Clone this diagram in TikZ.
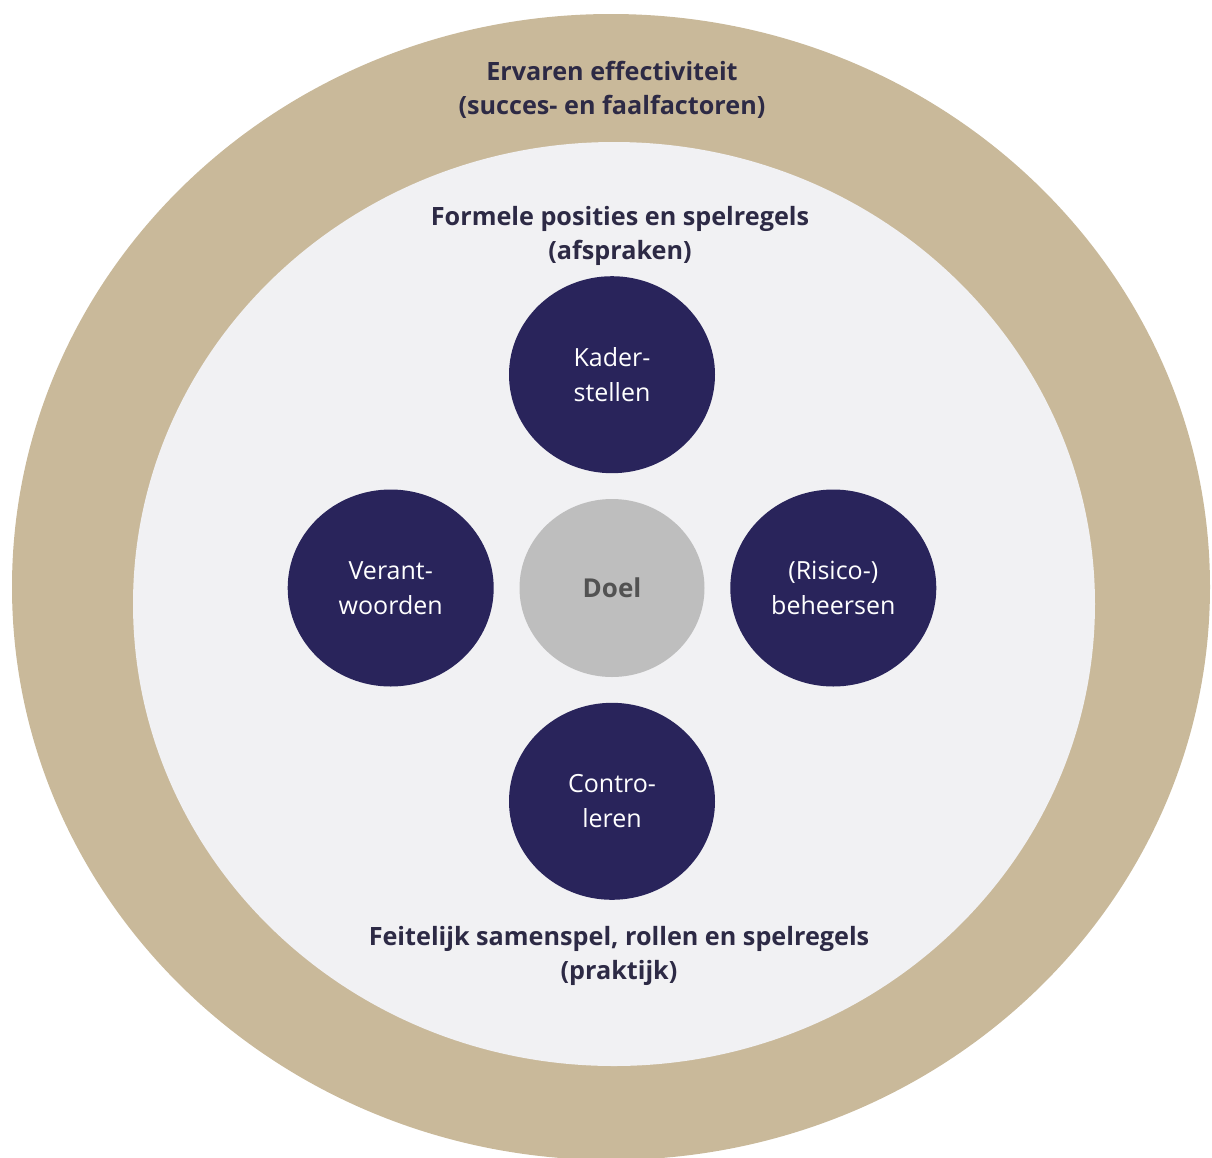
\documentclass[tikz,border=0pt]{standalone}
\usepackage{fontspec}
\setmainfont{Open Sans}
\usetikzlibrary{positioning,shapes.geometric}

\definecolor{ringbeige}{HTML}{C9B99A}
\definecolor{fieldgrey}{HTML}{F1F1F3}
\definecolor{rolenavy}{HTML}{29245B}
\definecolor{goalgrey}{HTML}{BEBEBE}
\definecolor{titleink}{HTML}{2D2A45}

\begin{document}
\begin{tikzpicture}[
    x=0.5pt,y=-0.5pt,
    band/.style={ellipse,inner sep=0pt,fill=#1},
    role/.style={ellipse,inner sep=0pt,fill=rolenavy,text=white,
      minimum width=103pt,minimum height=98.5pt,align=center,
      font=\fontsize{12.5}{17.5}\selectfont},
    goal/.style={ellipse,inner sep=0pt,fill=goalgrey,text=black!68,
      minimum width=92.5pt,minimum height=89pt,
      font=\bfseries\fontsize{13}{16}\selectfont},
    heading/.style={align=center,text=titleink,
      font=\bfseries\fontsize{12.6}{17}\selectfont},
    node distance=12.5pt,
  ]
  \useasboundingbox (0,0) rectangle (1212,1158);

  \node[band=ringbeige,minimum width=599pt,minimum height=573pt] (ring) at (611,587) {};
  \node[band=fieldgrey,minimum width=481pt,minimum height=462pt] (field) at (614,604) {};

  \node[goal] (doel) at (612,588) {Doel};
  \node[role,above=of doel] (kader) {Kader-\\stellen};
  \node[role,below=of doel] (contr) {Contro-\\leren};
  \node[role,left=of doel] (verant) {Verant-\\woorden};
  \node[role,right=of doel] (risico) {(Risico-)\\beheersen};

  \node[heading] (ervaren) at (612,90) {Ervaren effectiviteit\\(succes- en faalfactoren)};
  \node[heading] (formeel) at (620,236) {Formele posities en spelregels\\(afspraken)};
  \node[heading] (feitelijk) at (619,956) {Feitelijk samenspel, rollen en spelregels\\(praktijk)};
\end{tikzpicture}
\end{document}
